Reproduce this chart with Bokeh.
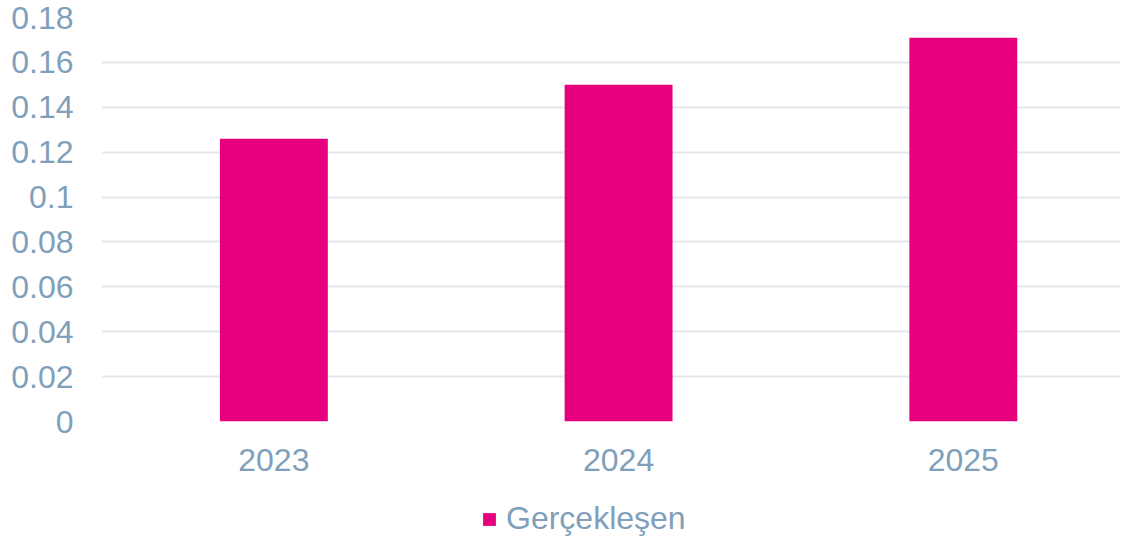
from bokeh.plotting import figure
from bokeh.layouts import column
from bokeh.models import ColumnDataSource, FixedTicker, Range1d, Legend, LegendItem
from bokeh.embed import file_html
from bokeh.resources import INLINE

# Data
years = ["2023", "2024", "2025"]
values = [0.126, 0.150, 0.171]
series_name = "Gerçekleşen"
y_ticks = [0, 0.02, 0.04, 0.06, 0.08, 0.1, 0.12, 0.14, 0.16, 0.18]
y_tick_labels = ["0", "0.02", "0.04", "0.06", "0.08", "0.1", "0.12", "0.14", "0.16", "0.18"]

BAR = "#E6007E"
TXT = "#7F9FBA"
GRID = "#E3E8EF"
FONT = "Liberation Sans"

xs = list(range(len(years)))
src = ColumnDataSource(dict(x=xs, top=values))

p = figure(width=1120, height=490, output_backend="svg", toolbar_location=None,
           x_range=Range1d(-0.5, 2.456), y_range=Range1d(0, 0.18),
           min_border_left=101, min_border_right=0, min_border_top=17, min_border_bottom=69)

r = p.vbar(x="x", top="top", width=0.313, source=src, fill_color=BAR, line_color=None)

p.outline_line_color = None
p.xgrid.grid_line_color = None
p.ygrid.grid_line_color = GRID
p.ygrid.grid_line_width = 2

p.yaxis.ticker = FixedTicker(ticks=y_ticks)
p.yaxis.major_label_overrides = {t: l for t, l in zip(y_ticks, y_tick_labels)}
p.xaxis.ticker = FixedTicker(ticks=xs)
p.xaxis.major_label_overrides = {i: y for i, y in zip(xs, years)}

for ax in (p.xaxis[0], p.yaxis[0]):
    ax.axis_line_color = None
    ax.major_tick_line_color = None
    ax.minor_tick_line_color = None
    ax.major_tick_out = 0
    ax.major_tick_in = 0
    ax.minor_tick_out = 0
    ax.major_label_text_font = FONT
    ax.major_label_text_font_size = "32px"
    ax.major_label_text_color = TXT
p.yaxis.major_label_standoff = 28
p.xaxis.major_label_standoff = 27

# Legend strip below the chart
pl = figure(width=1120, height=51, output_backend="svg", toolbar_location=None,
            x_range=Range1d(-0.5, 2.456), y_range=Range1d(10, 11),
            min_border_left=0, min_border_right=0, min_border_top=0, min_border_bottom=0)
pl.axis.visible = False
pl.grid.visible = False
pl.outline_line_color = None
rl = pl.vbar(x="x", top="top", width=0.313, source=src, fill_color=BAR, line_color=None)

legend = Legend(items=[LegendItem(label=series_name, renderers=[rl])],
                location=(380, 4), orientation="horizontal",
                label_text_font=FONT, label_text_font_size="32px", label_text_color=TXT,
                glyph_width=16, glyph_height=16, label_standoff=9,
                border_line_color=None, background_fill_alpha=0,
                padding=0, margin=0, spacing=0)
pl.add_layout(legend, "center")

layout = column(p, pl, spacing=0)
open("out.html", "w").write(file_html(layout, INLINE))
